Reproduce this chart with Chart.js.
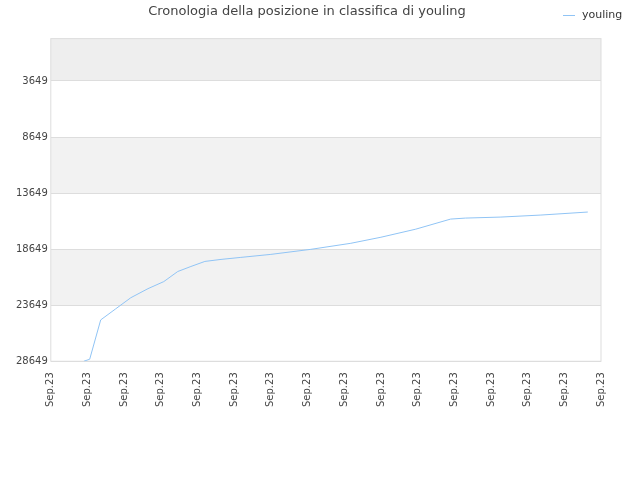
<!DOCTYPE html>
<html><head><meta charset="utf-8">
<script src="https://cdn.jsdelivr.net/npm/chart.js@4"></script>
<style>body{margin:0;background:#fff}#wrap{width:640px;height:480px}</style>
</head><body><div id="wrap"><canvas id="c"></canvas></div>
<script>
// posizioni (x = indice etichetta)
const xLabels = Array(16).fill('Sep.23');
const posX = [0.9, 1.06, 1.36, 1.77, 2.18, 2.65, 3.08, 3.46, 3.82, 4.2, 4.64, 5.18, 6.0, 7.09, 8.18, 9.0, 9.95, 10.9, 11.3, 12.27, 13.36, 14.64];
const posY = [28649, 28469, 24962, 23973, 22984, 22174, 21545, 20646, 20196, 19746, 19566, 19386, 19117, 18667, 18127, 17588, 16868, 15969, 15879, 15789, 15609, 15340];
const yTicks = [3649, 8649, 13649, 18649, 23649, 28649];

const bands = {
  id: 'bands',
  beforeDraw(chart) {
    const { ctx, chartArea: a, scales: { y } } = chart;
    const edges = [y.min, ...yTicks];
    const cols = ['#eeeeee', '#ffffff', '#f2f2f2', '#ffffff', '#f2f2f2', '#ffffff'];
    ctx.save();
    for (let i = 0; i < edges.length - 1; i++) {
      const t = y.getPixelForValue(edges[i]), b = y.getPixelForValue(edges[i + 1]);
      ctx.fillStyle = cols[i];
      ctx.fillRect(a.left, t, a.right - a.left, b - t);
    }
    ctx.strokeStyle = '#dddddd';
    ctx.strokeRect(a.left, a.top, a.right - a.left, a.bottom - a.top);
    ctx.restore();
  },
  afterDraw(chart) {
    // legenda sulla stessa riga del titolo
    const { ctx } = chart;
    ctx.save();
    ctx.strokeStyle = '#90c4f5';
    ctx.lineWidth = 1;
    ctx.beginPath();
    ctx.moveTo(563, 15.5);
    ctx.lineTo(575, 15.5);
    ctx.stroke();
    ctx.fillStyle = '#333';
    ctx.font = '11px "DejaVu Sans"';
    ctx.textBaseline = 'middle';
    ctx.fillText(chart.data.datasets[0].label, 582, 15);
    ctx.restore();
  }
};

new Chart(document.getElementById('c'), {
  type: 'line',
  data: {
    datasets: [{
      label: 'youling',
      data: posX.map((x, i) => ({ x, y: posY[i] })),
      borderColor: '#90c4f5',
      backgroundColor: '#90c4f5',
      borderWidth: 1,
      pointRadius: 0,
      tension: 0,
    }],
  },
  options: {
    responsive: true,
    maintainAspectRatio: false,
    animation: false,
    layout: { padding: { left: 13, right: 39, top: 0, bottom: 70 } },
    plugins: {
      title: {
        display: true,
        text: 'Cronologia della posizione in classifica di youling',
        color: '#444',
        font: { family: 'DejaVu Sans', size: 13, weight: 'normal' },
        padding: { top: 4, bottom: 19 },
      },
      legend: { display: false },
      tooltip: { enabled: false },
    },
    scales: {
      x: {
        type: 'linear',
        min: 0,
        max: 15,
        afterBuildTicks(s) { s.ticks = xLabels.map((_, i) => ({ value: i })); },
        ticks: {
          autoSkip: false,
          maxRotation: 90,
          minRotation: 90,
          color: '#444',
          font: { family: 'DejaVu Sans', size: 10 },
          callback: (v) => xLabels[v],
        },
        grid: { display: false },
        border: { display: false },
      },
      y: {
        reverse: true,
        min: -130,
        max: 28649,
        afterBuildTicks(s) { s.ticks = yTicks.map((v) => ({ value: v })); },
        ticks: { color: '#444', font: { family: 'DejaVu Sans', size: 10 }, callback: (v) => String(v) },
        grid: { color: '#dddddd', drawTicks: false },
        border: { display: false },
      },
    },
  },
  plugins: [bands],
});
</script></body></html>
